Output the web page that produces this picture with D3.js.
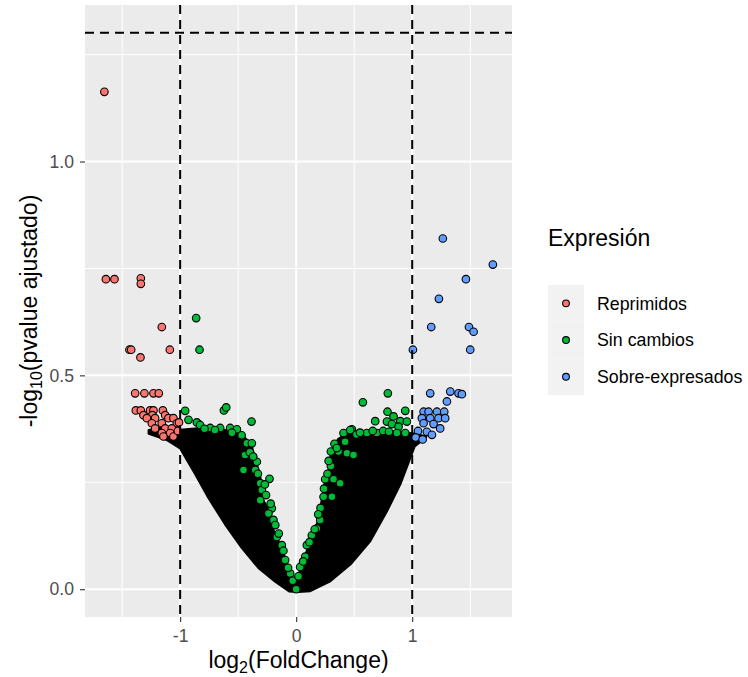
<!DOCTYPE html>
<html>
<head>
<meta charset="utf-8">
<script src="https://cdn.jsdelivr.net/npm/d3@7"></script>
<style>
  body { margin: 0; background: #fff; }
  text { font-family: "Liberation Sans", Arial, sans-serif; }
</style>
</head>
<body>
<div id="chart"></div>
<script>
// categories and colours (ggplot defaults)
const categories = ["Reprimidos", "Sin cambios", "Sobre-expresados"]
const catColors = ["#F8766D", "#00BA38", "#619CFF"]

// visible points, [log2FC, -log10(padj)]
const reprimidos = [
    [-1.653, 1.163], [-1.640, 0.725], [-1.566, 0.725], [-1.339, 0.727], [-1.339, 0.714],
    [-1.158, 0.613], [-1.437, 0.560], [-1.422, 0.560], [-1.089, 0.560], [-1.342, 0.542],
    [-1.388, 0.458], [-1.308, 0.458], [-1.230, 0.458], [-1.184, 0.458],
    [-1.382, 0.418], [-1.339, 0.418], [-1.259, 0.418], [-1.230, 0.418], [-1.149, 0.418],
    [-1.316, 0.407], [-1.239, 0.407], [-1.129, 0.407], [-1.287, 0.400], [-1.216, 0.400],
    [-1.101, 0.400], [-1.058, 0.400], [-1.244, 0.388], [-1.158, 0.388], [-1.029, 0.388],
    [-1.216, 0.376], [-1.129, 0.376], [-1.072, 0.376], [-1.158, 0.365], [-1.086, 0.365],
    [-1.144, 0.357], [-1.058, 0.357], [-1.020, 0.370], [-1.010, 0.390]
]

const sinCambios = [
    [-0.862, 0.634], [-0.833, 0.560], [-0.623, 0.418], [-0.603, 0.425], [-0.385, 0.392],
    [-0.957, 0.417], [-0.928, 0.396], [-0.856, 0.390], [-0.828, 0.384], [-0.741, 0.377],
    [-0.655, 0.377], [-0.569, 0.377], [-0.511, 0.374], [-0.554, 0.366], [-0.425, 0.341],
    [-0.382, 0.341], [-0.440, 0.314], [-0.454, 0.279], [-0.339, 0.298], [-0.353, 0.279],
    [-0.230, 0.258], [-0.310, 0.248], [-0.296, 0.232], [-0.310, 0.208], [-0.210, 0.189],
    [-0.239, 0.177], [-0.196, 0.162], [-0.167, 0.122], [-0.124, 0.103], [-0.095, 0.068],
    [-0.052, 0.037], [-0.400, 0.320], [-0.370, 0.310], [-0.330, 0.270], [-0.270, 0.245],
    [-0.260, 0.220], [-0.220, 0.200], [-0.180, 0.150], [-0.150, 0.130], [-0.110, 0.090],
    [-0.070, 0.050], [-0.030, 0.020], [-0.700, 0.372], [-0.790, 0.375], [-0.470, 0.360],
    [0.790, 0.458], [0.575, 0.437], [0.787, 0.415], [0.940, 0.417], [0.681, 0.393],
    [0.782, 0.392], [0.839, 0.404], [0.825, 0.386], [0.897, 0.393], [0.954, 0.392],
    [0.882, 0.380], [0.480, 0.374], [0.408, 0.365], [0.466, 0.372], [0.422, 0.345],
    [0.299, 0.322], [0.365, 0.322], [0.437, 0.318], [0.494, 0.314], [0.299, 0.288],
    [0.250, 0.257], [0.322, 0.257], [0.379, 0.248], [0.236, 0.216], [0.308, 0.216],
    [0.207, 0.162], [0.178, 0.142], [0.135, 0.126], [0.092, 0.103], [0.078, 0.076],
    [0.034, 0.052], [0.609, 0.365], [0.695, 0.365], [0.868, 0.365], [0.940, 0.365],
    [0.330, 0.340], [0.350, 0.330], [0.280, 0.300], [0.270, 0.270], [0.240, 0.235],
    [0.210, 0.190], [0.190, 0.175], [0.160, 0.140], [0.115, 0.110], [0.060, 0.065],
    [0.020, 0.030], [0.520, 0.362], [0.550, 0.366], [0.660, 0.370], [0.750, 0.370],
    [0.800, 0.368], [0.000, 0.000]
]

const sobreExpresados = [
    [1.264, 0.820], [1.695, 0.759], [1.463, 0.725], [1.230, 0.679], [1.164, 0.613],
    [1.489, 0.613], [1.529, 0.602], [1.006, 0.560], [1.500, 0.560],
    [1.155, 0.458], [1.328, 0.462], [1.399, 0.458], [1.428, 0.456], [1.299, 0.439],
    [1.098, 0.415], [1.141, 0.415], [1.213, 0.415], [1.276, 0.415],
    [1.083, 0.400], [1.155, 0.400], [1.227, 0.400], [1.284, 0.400],
    [1.098, 0.388], [1.184, 0.386], [1.241, 0.376], [1.126, 0.368], [1.170, 0.361],
    [1.050, 0.370], [1.030, 0.355], [1.090, 0.350]
]

// outline of the overplotted (solid black) mass of points, one per arm
const leftArm = [
    [-1.27, 0.372], [-1.15, 0.378], [-1.0, 0.372], [-0.85, 0.376], [-0.7, 0.374],
    [-0.55, 0.370], [-0.46, 0.358], [-0.39, 0.340], [-0.35, 0.300], [-0.31, 0.262],
    [-0.30, 0.215], [-0.23, 0.182], [-0.20, 0.140], [-0.14, 0.105], [-0.09, 0.068],
    [-0.04, 0.030], [0.0, 0.005], [0.0, -0.006], [-0.06, -0.005], [-0.18, 0.018],
    [-0.325, 0.050], [-0.468, 0.097], [-0.612, 0.152], [-0.756, 0.214], [-0.871, 0.270],
    [-1.0, 0.330], [-1.12, 0.350], [-1.27, 0.364]
]
const rightArm = [
    [0.36, 0.350], [0.42, 0.362], [0.5, 0.368], [0.7, 0.370], [0.9, 0.368],
    [1.05, 0.362], [1.12, 0.356], [1.02, 0.334], [0.983, 0.308], [0.897, 0.246],
    [0.782, 0.183], [0.638, 0.113], [0.466, 0.058], [0.293, 0.019], [0.121, -0.004],
    [0.02, -0.006], [0.0, 0.003], [0.03, 0.040], [0.08, 0.080], [0.149, 0.130],
    [0.19, 0.160], [0.227, 0.216], [0.25, 0.252], [0.29, 0.288], [0.30, 0.318]
]

// thresholds and ticks
const fcCut = [-1, 1]
const pCut = 1.301
const xTicks = [-1, 0, 1]
const xMinor = [-1.5, -0.5, 0.5, 1.5]
const yTicks = [0, 0.5, 1.0]
const yMinor = [0.25, 0.75, 1.25]

const width = 748
const height = 677
const panel = { left: 85, right: 512, top: 5, bottom: 617 }

const svg = d3.select("#chart").append("svg")
    .attr("width", width)
    .attr("height", height)

const xScale = d3.scaleLinear()
    .domain([-1.82, 1.86])
    .range([panel.left, panel.right])

const yScale = d3.scaleLinear()
    .domain([-0.065, 1.366])
    .range([panel.bottom, panel.top])

// panel background + grid
svg.append("rect")
    .attr("x", panel.left)
    .attr("y", panel.top)
    .attr("width", panel.right - panel.left)
    .attr("height", panel.bottom - panel.top)
    .attr("fill", "#EBEBEB")

const grid = svg.append("g")
grid.selectAll(".xminor").data(xMinor).join("line")
    .attr("x1", d => xScale(d)).attr("x2", d => xScale(d))
    .attr("y1", panel.top).attr("y2", panel.bottom)
    .attr("stroke", "#fff").attr("stroke-width", 1)
grid.selectAll(".yminor").data(yMinor).join("line")
    .attr("y1", d => yScale(d)).attr("y2", d => yScale(d))
    .attr("x1", panel.left).attr("x2", panel.right)
    .attr("stroke", "#fff").attr("stroke-width", 1)
grid.selectAll(".xmajor").data(xTicks).join("line")
    .attr("x1", d => xScale(d)).attr("x2", d => xScale(d))
    .attr("y1", panel.top).attr("y2", panel.bottom)
    .attr("stroke", "#fff").attr("stroke-width", 2)
grid.selectAll(".ymajor").data(yTicks).join("line")
    .attr("y1", d => yScale(d)).attr("y2", d => yScale(d))
    .attr("x1", panel.left).attr("x2", panel.right)
    .attr("stroke", "#fff").attr("stroke-width", 2)

// dense mass
const armLine = d3.line()
    .x(d => xScale(d[0]))
    .y(d => yScale(d[1]))
    .curve(d3.curveLinearClosed)

svg.selectAll(".arm")
    .data([leftArm, rightArm])
    .join("path")
    .attr("d", armLine)
    .attr("fill", "#000")
    .attr("stroke", "#000")
    .attr("stroke-width", 2.5)
    .attr("stroke-linejoin", "round")

// points
const groups = [sinCambios, reprimidos, sobreExpresados]
const groupCat = [1, 0, 2]
groups.forEach((pts, i) => {
    svg.append("g").selectAll("circle")
        .data(pts)
        .join("circle")
        .attr("cx", d => xScale(d[0]))
        .attr("cy", d => yScale(d[1]))
        .attr("r", 3.8)
        .attr("fill", catColors[groupCat[i]])
        .attr("stroke", "#000")
        .attr("stroke-width", 1.1)
})

// threshold lines
svg.selectAll(".vcut").data(fcCut).join("line")
    .attr("x1", d => xScale(d)).attr("x2", d => xScale(d))
    .attr("y1", panel.top).attr("y2", panel.bottom)
    .attr("stroke", "#000").attr("stroke-width", 2)
    .attr("stroke-dasharray", "9,6")
svg.append("line")
    .attr("x1", panel.left).attr("x2", panel.right)
    .attr("y1", yScale(pCut)).attr("y2", yScale(pCut))
    .attr("stroke", "#000").attr("stroke-width", 2)
    .attr("stroke-dasharray", "9,6")

// axes
const xAxis = svg.append("g")
    .attr("transform", `translate(0,${panel.bottom})`)
    .call(d3.axisBottom(xScale).tickValues(xTicks).tickSize(5).tickPadding(8)
        .tickFormat(d => String(d)))
const yAxis = svg.append("g")
    .attr("transform", `translate(${panel.left},0)`)
    .call(d3.axisLeft(yScale).tickValues(yTicks).tickSize(5).tickPadding(6)
        .tickFormat(d3.format(".1f")))

svg.selectAll(".domain").remove()
svg.selectAll(".tick line").attr("stroke", "#333").attr("stroke-width", 1.1)
svg.selectAll(".tick text")
    .attr("fill", "#4D4D4D")
    .attr("font-size", "17.6px")
    .attr("font-family", "'Liberation Sans', Arial, sans-serif")

// axis titles
const xTitle = svg.append("text")
    .attr("x", (panel.left + panel.right) / 2)
    .attr("y", 668)
    .attr("text-anchor", "middle")
    .attr("font-size", "23px")
    .attr("fill", "#000")
xTitle.append("tspan").text("log")
xTitle.append("tspan").attr("font-size", "16px").attr("dy", 5).text("2")
xTitle.append("tspan").attr("dy", -5).text("(FoldChange)")

const yTitle = svg.append("text")
    .attr("transform", `translate(37,${(panel.top + panel.bottom) / 2}) rotate(-90)`)
    .attr("text-anchor", "middle")
    .attr("font-size", "23px")
    .attr("fill", "#000")
yTitle.append("tspan").text("-log")
yTitle.append("tspan").attr("font-size", "16px").attr("dy", 5).text("10")
yTitle.append("tspan").attr("dy", -5).text("(pvalue ajustado)")

// legend
const legend = svg.append("g")
legend.append("text")
    .attr("x", 548)
    .attr("y", 246)
    .attr("font-size", "23px")
    .attr("fill", "#000")
    .text("Expresión")

const keyH = 36.7
const items = legend.selectAll(".item")
    .data(categories)
    .join("g")
    .attr("transform", (d, i) => `translate(548,${285 + i * keyH})`)
items.append("rect")
    .attr("width", 36)
    .attr("height", keyH)
    .attr("fill", "#F2F2F2")
items.append("circle")
    .attr("cx", 18)
    .attr("cy", keyH / 2)
    .attr("r", 3.4)
    .attr("fill", (d, i) => catColors[i])
    .attr("stroke", "#000")
    .attr("stroke-width", 1.1)
items.append("text")
    .attr("x", 49)
    .attr("y", keyH / 2 + 6.3)
    .attr("font-size", "17.8px")
    .attr("fill", "#000")
    .text(d => d)
</script>
</body>
</html>
